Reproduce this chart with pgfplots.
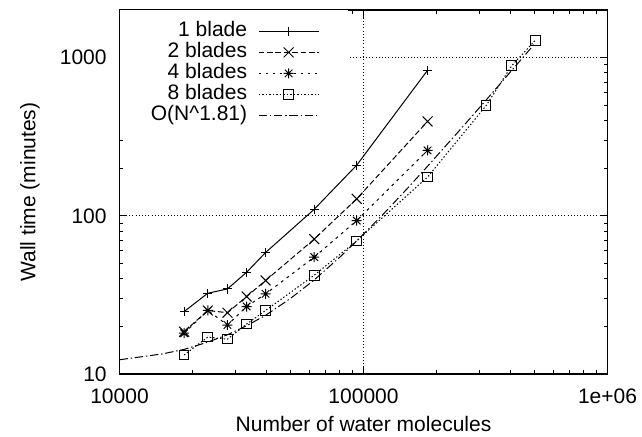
\documentclass[border=0pt]{standalone}
\usepackage{fontspec}
\setmainfont{Liberation Sans}
\usepackage{pgfplots}
\pgfplotsset{compat=1.18}

% gnuplot-like star (plus and cross together)
\pgfdeclareplotmark{gpstar}{%
  \pgfpathmoveto{\pgfqpoint{-\pgfplotmarksize}{0pt}}%
  \pgfpathlineto{\pgfqpoint{\pgfplotmarksize}{0pt}}%
  \pgfpathmoveto{\pgfqpoint{0pt}{-\pgfplotmarksize}}%
  \pgfpathlineto{\pgfqpoint{0pt}{\pgfplotmarksize}}%
  \pgfpathmoveto{\pgfqpoint{-.75\pgfplotmarksize}{-.75\pgfplotmarksize}}%
  \pgfpathlineto{\pgfqpoint{.75\pgfplotmarksize}{.75\pgfplotmarksize}}%
  \pgfpathmoveto{\pgfqpoint{-.75\pgfplotmarksize}{.75\pgfplotmarksize}}%
  \pgfpathlineto{\pgfqpoint{.75\pgfplotmarksize}{-.75\pgfplotmarksize}}%
  \pgfusepathqstroke}

\begin{document}
\fontsize{10.5}{12.6}\selectfont
\begin{tikzpicture}
\begin{axis}[
    scale only axis,
    width=244pt, height=182pt,
    xmode=log, ymode=log,
    xmin=10000, xmax=1000000,
    ymin=10, ymax=2000,
    xtick={10000,100000,1000000},
    xticklabels={10000,100000,1e+06},
    ytick={10,100,1000},
    yticklabels={10,100,1000},
    minor xtick={20000,30000,40000,50000,60000,70000,80000,90000,200000,300000,400000,500000,600000,700000,800000,900000},
    minor ytick={20,30,40,50,60,70,80,90,200,300,400,500,600,700,800,900},
    tick pos=both,
    tick align=inside,
    major tick length=4pt,
    minor tick length=2pt,
    tick style={black, line width=0.5pt},
    axis line style={line width=0.6pt},
    grid=major,
    major grid style={black, line width=0.4pt, dash pattern=on 0.5pt off 1.1pt},
    xticklabel style={anchor=center, yshift=-11.3pt, inner sep=0pt},
    yticklabel style={anchor=east, xshift=-2.75pt},
    xlabel={Number of water molecules},
    ylabel={Wall time (minutes)},
    every axis x label/.style={at={(axis description cs:0.5,0)}, yshift=-25pt, anchor=center},
    every axis y label/.style={at={(axis description cs:0,0.5)}, xshift=-44.75pt, rotate=90, anchor=center},
    legend style={at={(0,1)}, anchor=north west, draw=none, fill=white,
        inner xsep=14.5pt, inner ysep=5.25pt, row sep=0pt, column sep=4.5pt,
        nodes={inner sep=1pt, text height=7pt, text depth=1.5pt}},
    legend cell align=right,
    legend plot pos=right,
    legend image code/.code={\draw[mark repeat=2,mark phase=2,#1] plot coordinates {(0pt,0pt) (15pt,0pt) (30pt,0pt)};},
    every axis plot/.append style={black, line width=0.5pt, mark options={solid, line width=0.5pt}},
]
\addplot[solid, mark=+, mark size=2.3pt] coordinates {
    (18400,24.8) (23000,32.4) (27700,34.5) (33200,44.0) (39700,58.6)
    (62800,110) (93800,209) (183000,831)
};
\addlegendentry{1 blade}
\addplot[dash pattern=on 2.8pt off 1.4pt, mark=x, mark size=3.5pt] coordinates {
    (18400,18.5) (23000,25.2) (27700,24.4) (33200,30.9) (39700,39.0)
    (62800,71.2) (93800,128) (183000,395)
};
\addlegendentry{2 blades}
\addplot[dash pattern=on 1.4pt off 2.1pt, mark=gpstar, mark size=2.5pt] coordinates {
    (18400,18.1) (23000,25.2) (27700,20.4) (33200,26.7) (39700,32.1)
    (62800,54.8) (93800,93.3) (183000,259)
};
\addlegendentry{4 blades}
\addplot[dash pattern=on 0.7pt off 1.05pt, mark=square, mark size=2.4pt] coordinates {
    (18400,13.2) (23000,17.1) (27700,16.6) (33200,20.7) (39700,25.2)
    (62800,42.1) (93800,69.5) (183000,175.7) (318000,497) (405000,889)
    (506000,1288)
};
\addlegendentry{8 blades}
\addplot[dash pattern=on 4.2pt off 1.4pt on 0.7pt off 1.4pt, mark=none] coordinates {
    (10000,12.3) (15000,13.4) (18400,14.3) (23000,15.9) (27700,17.7)
    (33200,20.2) (39700,23.5) (50000,29.9) (62800,39.3) (80000,54.8)
    (93800,69.3) (120000,101.8) (150000,146.9) (183000,205.7)
    (250000,353) (318000,539) (405000,830) (506000,1236)
};
\addlegendentry{O(N\textasciicircum1.81)}
\end{axis}
\pgfresetboundingbox
\path (-59.75pt,-31.5pt) rectangle (261.25pt,187pt);
\end{tikzpicture}
\end{document}
